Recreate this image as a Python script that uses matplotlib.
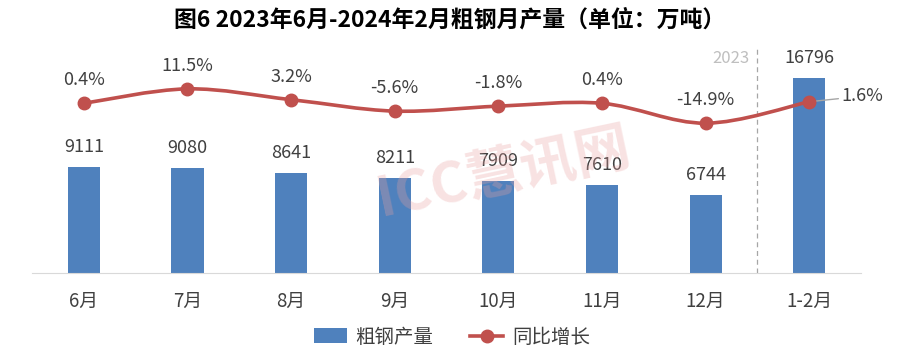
import numpy as np
import matplotlib
matplotlib.use("Agg")
import matplotlib.pyplot as plt
from matplotlib.path import Path
from matplotlib.patches import PathPatch, Patch
from matplotlib.lines import Line2D

plt.rcParams["font.family"] = ["Noto Sans CJK SC", "DejaVu Sans"]

# ---- data ------------------------------------------------------------------
months = ["6月", "7月", "8月", "9月", "10月", "11月", "12月", "1-2月"]
output = [9111, 9080, 8641, 8211, 7909, 7610, 6744, 16796]
yoy = [0.4, 11.5, 3.2, -5.6, -1.8, 0.4, -14.9, 1.6]

BLUE, RED, INK, GRID, GREY = "#4f81bd", "#c0504d", "#404040", "#d9d9d9", "#a6a6a6"

fig = plt.figure(figsize=(9, 3.61), dpi=100, facecolor="white")
ax = fig.add_axes([0.0356, 0.2438, 0.9211, 0.6427])
x = np.arange(len(months))

ax.bar(x, output, width=0.31, color=BLUE, zorder=2)
ax.set_xlim(-0.5, len(months) - 0.5)
ax.set_ylim(0, 20000)
for s in ("top", "right", "left"):
    ax.spines[s].set_visible(False)
ax.spines["bottom"].set_color(GRID)
ax.set_yticks([])
ax.set_xticks(x)
ax.set_xticklabels(months, fontsize=13.5, color=INK)
ax.tick_params(axis="x", length=0, pad=13)
for xi, v in zip(x, output):
    ax.annotate(str(v), (xi, v), xytext=(0, 8), textcoords="offset points",
                ha="center", va="bottom", fontsize=13, color=INK)

# divider between 2023 and 2024
ax.axvline(6.5, ymin=0, ymax=0.98, color=GREY, lw=0.9, ls=(0, (4, 3)))
ax.text(6.42, 0.925, "2023", transform=ax.get_xaxis_transform(),
        ha="right", va="center", fontsize=12, color="#bfbfbf")

# ---- growth line (smoothed) ------------------------------------------------
ax2 = ax.twinx()
ax2.set_ylim(-130, 48.3)
ax2.set_yticks([])
for s in ax2.spines.values():
    s.set_visible(False)

pts = np.column_stack([x, yoy]).astype(float)
verts, codes = [tuple(pts[0])], [Path.MOVETO]
t = 1 / 6
for i in range(len(pts) - 1):
    p0 = pts[max(i - 1, 0)]
    p1, p2 = pts[i], pts[i + 1]
    p3 = pts[min(i + 2, len(pts) - 1)]
    c1 = p1 + (p2 - p0) * t
    c2 = p2 - (p3 - p1) * t
    verts += [tuple(c1), tuple(c2), tuple(p2)]
    codes += [Path.CURVE4] * 3
ax2.add_patch(PathPatch(Path(verts, codes), fill=False, edgecolor=RED, lw=2.6,
                        capstyle="round", zorder=3))
ax2.plot(x, yoy, ls="none", marker="o", ms=9, color=RED, zorder=4)

for xi, v in zip(x[:-1], yoy[:-1]):
    ax2.annotate(f"{v}%", (xi, v), xytext=(0, 10), textcoords="offset points",
                 ha="center", va="bottom", fontsize=13, color=INK)
ax2.annotate(f"{yoy[-1]}%", (x[-1], yoy[-1]), xytext=(23, 4), textcoords="offset points",
             ha="left", va="center", fontsize=13, color=INK,
             arrowprops=dict(arrowstyle="-", color=GREY, lw=1, shrinkA=0, shrinkB=2))

# ---- watermark ---------------------------------------------------------------
fig.text(0.56, 0.52, "ICC慧讯网", fontsize=40, fontweight="bold", color="#e8a0a0",
         alpha=0.3, rotation=12, ha="center", va="center", zorder=0)

# ---- title & legend ----------------------------------------------------------
fig.text(0.5, 0.945, "图6 2023年6月-2024年2月粗钢月产量（单位：万吨）",
         ha="center", va="center", fontsize=16.5, fontweight="bold", color="#000000")

handles = [Patch(facecolor=BLUE, edgecolor="none"),
           Line2D([], [], color=RED, lw=2.6, marker="o", ms=9)]
fig.legend(handles, ["粗钢产量", "同比增长"], loc="center", bbox_to_anchor=(0.502, 0.066),
           ncol=2, frameon=False, fontsize=14, handlelength=1.7, handleheight=0.8,
           handletextpad=0.45, columnspacing=1.9, labelcolor=INK)

fig.savefig("out.png", dpi=100, facecolor="white")
